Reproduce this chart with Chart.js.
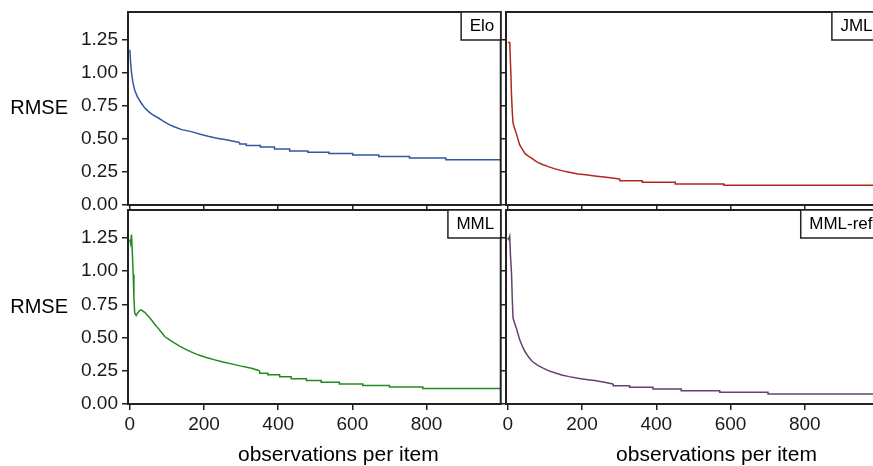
<!DOCTYPE html>
<html>
<head>
<meta charset="utf-8">
<script src="https://cdn.jsdelivr.net/npm/chart.js"></script>
<style>
  body { margin: 0; background: #fff; overflow: hidden; }
  #wrap { position: relative; width: 873px; height: 466px; overflow: hidden; background: #fff; }
  canvas { position: absolute; left: 0; top: 0; }
</style>
</head>
<body>
<div id="wrap">
  <canvas id="elo" width="900" height="466"></canvas>
  <canvas id="jml" width="900" height="466"></canvas>
  <canvas id="mml" width="900" height="466"></canvas>
  <canvas id="mmlref" width="900" height="466"></canvas>
</div>
<script>
const xTicks = [0, 200, 400, 600, 800];
const yTicks = [0, 0.25, 0.5, 0.75, 1, 1.25];

// RMSE: a smooth early part, then step starts (observations) with levels
const eloX = [0, 2, 4.5, 8, 13, 20, 31, 40, 49, 60, 76, 90, 105, 121, 140, 166, 190, 211, 235, 256, 276, 296];
const eloY = [1.174, 1.08, 1.0, 0.93, 0.87, 0.82, 0.77, 0.735, 0.71, 0.685, 0.66, 0.635, 0.61, 0.59, 0.57, 0.555, 0.535, 0.52, 0.505, 0.495, 0.484, 0.472];
const eloStepX = [296, 314, 352, 390, 431, 480, 537, 601, 671, 754, 852, 964, 1000];
const eloStepY = [0.472, 0.462, 0.450, 0.438, 0.423, 0.409, 0.399, 0.389, 0.379, 0.366, 0.356, 0.343, 0.343];

const jmlX = [0, 5, 8, 10, 12, 14, 18, 23, 27, 32, 39, 46, 55, 64, 73, 82, 95, 109, 125, 145, 165, 189, 210, 234, 265, 302];
const jmlY = [1.23, 1.23, 1.0, 0.82, 0.70, 0.62, 0.58, 0.54, 0.50, 0.455, 0.42, 0.39, 0.37, 0.354, 0.335, 0.32, 0.305, 0.29, 0.275, 0.26, 0.248, 0.235, 0.228, 0.22, 0.21, 0.197];
const jmlStepX = [302, 362, 451, 582, 791, 1000];
const jmlStepY = [0.197, 0.184, 0.172, 0.159, 0.149, 0.149];

const mmlX = [0, 2, 4.5, 7, 9, 11, 13, 17, 21, 25, 30, 40, 50, 58, 67, 76, 85, 94, 108, 121, 134, 148, 165, 184, 206, 229, 251, 274, 300, 328, 350];
const mmlY = [1.238, 1.21, 1.275, 1.12, 0.974, 0.80, 0.685, 0.666, 0.685, 0.70, 0.709, 0.69, 0.66, 0.634, 0.60, 0.571, 0.54, 0.508, 0.48, 0.458, 0.435, 0.415, 0.392, 0.370, 0.350, 0.332, 0.316, 0.302, 0.285, 0.269, 0.250];
const mmlStepX = [350, 372, 404, 435, 476, 516, 565, 628, 700, 790, 893, 1000];
const mmlStepY = [0.250, 0.232, 0.220, 0.205, 0.190, 0.177, 0.164, 0.151, 0.140, 0.128, 0.116, 0.116];

const refX = [0, 2, 5, 7, 10, 12, 14, 18, 23, 27, 32, 39, 46, 55, 64, 73, 82, 95, 109, 126, 145, 165, 189, 210, 234, 260, 284];
const refY = [1.25, 1.24, 1.263, 1.12, 0.974, 0.78, 0.647, 0.61, 0.571, 0.53, 0.483, 0.435, 0.395, 0.357, 0.325, 0.305, 0.289, 0.27, 0.251, 0.235, 0.219, 0.206, 0.194, 0.185, 0.176, 0.163, 0.151];
const refStepX = [284, 328, 391, 467, 571, 701, 898, 1000];
const refStepY = [0.151, 0.138, 0.126, 0.113, 0.100, 0.088, 0.075, 0.075];

const FONT = "'Liberation Sans', Arial, sans-serif";
Chart.defaults.font.family = FONT;
Chart.defaults.font.size = 19;
Chart.defaults.color = '#1a1a1a';

const framePlugin = {
  id: 'frame',
  afterDatasetsDraw(chart, args, opts) {
    const a = chart.chartArea, ctx = chart.ctx;
    ctx.save();
    ctx.strokeStyle = '#222';
    ctx.lineWidth = 2;
    ctx.strokeRect(a.left, a.top, a.right - a.left, a.bottom - a.top);

    ctx.font = '17px ' + FONT;
    const w = ctx.measureText(opts.label).width + 15;
    ctx.fillStyle = '#fff';
    ctx.fillRect(a.right - w, a.top, w, 28);
    ctx.lineWidth = 1.5;
    ctx.strokeRect(a.right - w, a.top, w, 28);
    ctx.fillStyle = '#000';
    ctx.textBaseline = 'middle';
    ctx.fillText(opts.label, a.right - w + 8.5, a.top + 14.5);

    if (opts.rmse) {
      ctx.font = '20px ' + FONT;
      ctx.textAlign = 'right';
      ctx.fillText('RMSE', 68, (a.top + a.bottom) / 2);
    }
    if (opts.xtitle) {
      ctx.font = '21px ' + FONT;
      ctx.textAlign = 'center';
      ctx.textBaseline = 'alphabetic';
      ctx.fillText('observations per item', (a.left + a.right) / 2 + 24, 461);
    }
    ctx.restore();
  }
};

function noPad(s) {
  s.paddingTop = 0; s.paddingBottom = 0; s.paddingLeft = 0; s.paddingRight = 0;
}

function makePanel(id, xs, ys, sx, sy, color, label, left, top, right, bottom, showY, showX) {
  const yW = showY ? 60 : 6;
  const xH = showX ? 30 : 6;
  const line = { borderColor: color, borderWidth: 1.5, pointRadius: 0, fill: false };
  new Chart(document.getElementById(id), {
    type: 'line',
    data: {
      datasets: [
        Object.assign({ data: xs.map((x, i) => ({ x: x, y: ys[i] })) }, line),
        Object.assign({ data: sx.map((x, i) => ({ x: x, y: sy[i] })), stepped: 'after' }, line)
      ]
    },
    options: {
      responsive: false,
      animation: false,
      devicePixelRatio: 1,
      layout: { padding: { left: left - yW, top: top, right: 900 - right, bottom: 466 - bottom - xH } },
      plugins: {
        legend: { display: false },
        tooltip: { enabled: false },
        frame: { label: label, rmse: showY, xtitle: showX }
      },
      scales: {
        x: {
          type: 'linear', min: -5, max: 1000,
          afterBuildTicks: s => { s.ticks = xTicks.map(v => ({ value: v })); },
          afterFit: s => { s.height = xH; noPad(s); },
          grid: { drawOnChartArea: false, drawTicks: true, tickLength: 6, color: '#222', lineWidth: 1.5 },
          border: { display: false },
          ticks: { display: showX, padding: 3, maxRotation: 0 }
        },
        y: {
          min: 0, max: 1.46,
          afterBuildTicks: s => { s.ticks = yTicks.map(v => ({ value: v })); },
          afterFit: s => { s.width = yW; noPad(s); },
          grid: { drawOnChartArea: false, drawTicks: true, tickLength: 6, color: '#222', lineWidth: 1.5 },
          border: { display: false },
          ticks: { display: showY, padding: 4, callback: v => Number(v).toFixed(2) }
        }
      }
    },
    plugins: [framePlugin]
  });
}

makePanel('elo', eloX, eloY, eloStepX, eloStepY, '#3157a3', 'Elo', 128, 12, 500.7, 205, true, false);
makePanel('jml', jmlX, jmlY, jmlStepX, jmlStepY, '#b2261d', 'JML', 506, 12, 879, 205, false, false);
makePanel('mml', mmlX, mmlY, mmlStepX, mmlStepY, '#22891f', 'MML', 128, 210, 500.7, 404, true, true);
makePanel('mmlref', refX, refY, refStepX, refStepY, '#62436f', 'MML-ref', 506, 210, 879, 404, false, true);
</script>
</body>
</html>
